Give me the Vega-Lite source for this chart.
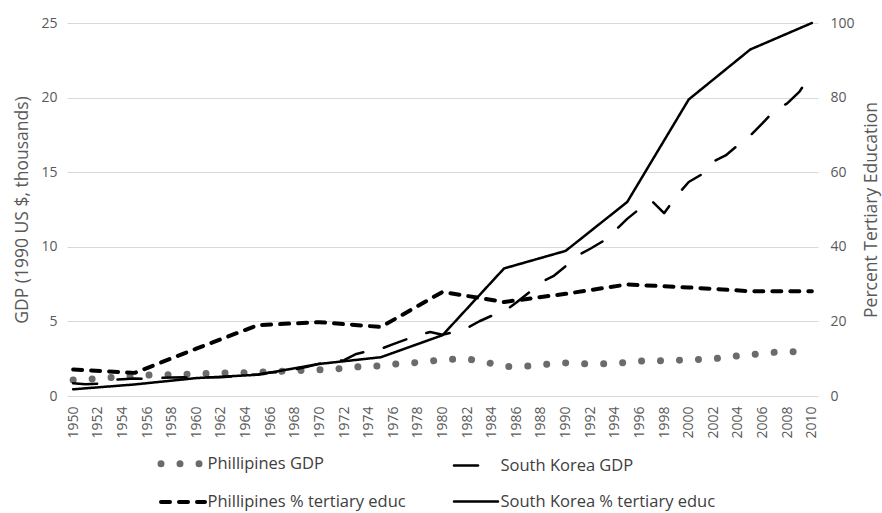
{
  "$schema": "https://vega.github.io/schema/vega-lite/v6.json",
  "width": 751,
  "height": 373,
  "autosize": {"type": "none"},
  "padding": {"left": 67, "top": 23, "right": 64, "bottom": 117},
  "background": "white",
  "datasets": {
    "gdp": [
      {"year":1950,"series":"Phillipines GDP","value":1.07},{"year":1951,"series":"Phillipines GDP","value":1.13},{"year":1952,"series":"Phillipines GDP","value":1.16},{"year":1953,"series":"Phillipines GDP","value":1.23},{"year":1954,"series":"Phillipines GDP","value":1.29},{"year":1955,"series":"Phillipines GDP","value":1.34},{"year":1956,"series":"Phillipines GDP","value":1.40},{"year":1957,"series":"Phillipines GDP","value":1.43},{"year":1958,"series":"Phillipines GDP","value":1.43},{"year":1959,"series":"Phillipines GDP","value":1.46},
      {"year":1960,"series":"Phillipines GDP","value":1.48},{"year":1961,"series":"Phillipines GDP","value":1.51},{"year":1962,"series":"Phillipines GDP","value":1.52},{"year":1963,"series":"Phillipines GDP","value":1.57},{"year":1964,"series":"Phillipines GDP","value":1.56},{"year":1965,"series":"Phillipines GDP","value":1.60},{"year":1966,"series":"Phillipines GDP","value":1.63},{"year":1967,"series":"Phillipines GDP","value":1.66},{"year":1968,"series":"Phillipines GDP","value":1.70},{"year":1969,"series":"Phillipines GDP","value":1.73},
      {"year":1970,"series":"Phillipines GDP","value":1.76},{"year":1971,"series":"Phillipines GDP","value":1.81},{"year":1972,"series":"Phillipines GDP","value":1.84},{"year":1973,"series":"Phillipines GDP","value":1.95},{"year":1974,"series":"Phillipines GDP","value":1.98},{"year":1975,"series":"Phillipines GDP","value":2.03},{"year":1976,"series":"Phillipines GDP","value":2.13},{"year":1977,"series":"Phillipines GDP","value":2.19},{"year":1978,"series":"Phillipines GDP","value":2.25},{"year":1979,"series":"Phillipines GDP","value":2.33},
      {"year":1980,"series":"Phillipines GDP","value":2.43},{"year":1981,"series":"Phillipines GDP","value":2.47},{"year":1982,"series":"Phillipines GDP","value":2.47},{"year":1983,"series":"Phillipines GDP","value":2.38},{"year":1984,"series":"Phillipines GDP","value":2.17},{"year":1985,"series":"Phillipines GDP","value":1.97},{"year":1986,"series":"Phillipines GDP","value":1.97},{"year":1987,"series":"Phillipines GDP","value":2.01},{"year":1988,"series":"Phillipines GDP","value":2.09},{"year":1989,"series":"Phillipines GDP","value":2.17},
      {"year":1990,"series":"Phillipines GDP","value":2.22},{"year":1991,"series":"Phillipines GDP","value":2.18},{"year":1992,"series":"Phillipines GDP","value":2.14},{"year":1993,"series":"Phillipines GDP","value":2.15},{"year":1994,"series":"Phillipines GDP","value":2.19},{"year":1995,"series":"Phillipines GDP","value":2.25},{"year":1996,"series":"Phillipines GDP","value":2.33},{"year":1997,"series":"Phillipines GDP","value":2.41},{"year":1998,"series":"Phillipines GDP","value":2.34},{"year":1999,"series":"Phillipines GDP","value":2.39},
      {"year":2000,"series":"Phillipines GDP","value":2.43},{"year":2001,"series":"Phillipines GDP","value":2.45},{"year":2002,"series":"Phillipines GDP","value":2.50},{"year":2003,"series":"Phillipines GDP","value":2.58},{"year":2004,"series":"Phillipines GDP","value":2.69},{"year":2005,"series":"Phillipines GDP","value":2.77},{"year":2006,"series":"Phillipines GDP","value":2.85},{"year":2007,"series":"Phillipines GDP","value":2.93},{"year":2008,"series":"Phillipines GDP","value":2.97},{"year":2009,"series":"Phillipines GDP","value":2.96},{"year":2010,"series":"Phillipines GDP","value":3.0},
      {"year":1950,"series":"South Korea GDP","value":0.85},{"year":1951,"series":"South Korea GDP","value":0.79},{"year":1952,"series":"South Korea GDP","value":0.82},{"year":1953,"series":"South Korea GDP","value":1.07},{"year":1954,"series":"South Korea GDP","value":1.12},{"year":1955,"series":"South Korea GDP","value":1.17},{"year":1956,"series":"South Korea GDP","value":1.16},{"year":1957,"series":"South Korea GDP","value":1.21},{"year":1958,"series":"South Korea GDP","value":1.24},{"year":1959,"series":"South Korea GDP","value":1.25},
      {"year":1960,"series":"South Korea GDP","value":1.23},{"year":1961,"series":"South Korea GDP","value":1.25},{"year":1962,"series":"South Korea GDP","value":1.25},{"year":1963,"series":"South Korea GDP","value":1.32},{"year":1964,"series":"South Korea GDP","value":1.39},{"year":1965,"series":"South Korea GDP","value":1.44},{"year":1966,"series":"South Korea GDP","value":1.57},{"year":1967,"series":"South Korea GDP","value":1.63},{"year":1968,"series":"South Korea GDP","value":1.77},{"year":1969,"series":"South Korea GDP","value":1.96},
      {"year":1970,"series":"South Korea GDP","value":2.17},{"year":1971,"series":"South Korea GDP","value":2.32},{"year":1972,"series":"South Korea GDP","value":2.40},{"year":1973,"series":"South Korea GDP","value":2.82},{"year":1974,"series":"South Korea GDP","value":3.02},{"year":1975,"series":"South Korea GDP","value":3.16},{"year":1976,"series":"South Korea GDP","value":3.48},{"year":1977,"series":"South Korea GDP","value":3.78},{"year":1978,"series":"South Korea GDP","value":4.06},{"year":1979,"series":"South Korea GDP","value":4.29},
      {"year":1980,"series":"South Korea GDP","value":4.11},{"year":1981,"series":"South Korea GDP","value":4.30},{"year":1982,"series":"South Korea GDP","value":4.56},{"year":1983,"series":"South Korea GDP","value":5.01},{"year":1984,"series":"South Korea GDP","value":5.38},{"year":1985,"series":"South Korea GDP","value":5.67},{"year":1986,"series":"South Korea GDP","value":6.26},{"year":1987,"series":"South Korea GDP","value":6.92},{"year":1988,"series":"South Korea GDP","value":7.62},{"year":1989,"series":"South Korea GDP","value":8.03},
      {"year":1990,"series":"South Korea GDP","value":8.70},{"year":1991,"series":"South Korea GDP","value":9.43},{"year":1992,"series":"South Korea GDP","value":9.87},{"year":1993,"series":"South Korea GDP","value":10.36},{"year":1994,"series":"South Korea GDP","value":11.08},{"year":1995,"series":"South Korea GDP","value":11.87},{"year":1996,"series":"South Korea GDP","value":12.54},{"year":1997,"series":"South Korea GDP","value":13.07},{"year":1998,"series":"South Korea GDP","value":12.25},{"year":1999,"series":"South Korea GDP","value":13.40},
      {"year":2000,"series":"South Korea GDP","value":14.34},{"year":2001,"series":"South Korea GDP","value":14.83},{"year":2002,"series":"South Korea GDP","value":15.72},{"year":2003,"series":"South Korea GDP","value":16.12},{"year":2004,"series":"South Korea GDP","value":16.82},{"year":2005,"series":"South Korea GDP","value":17.46},{"year":2006,"series":"South Korea GDP","value":18.29},{"year":2007,"series":"South Korea GDP","value":19.17},{"year":2008,"series":"South Korea GDP","value":19.61},{"year":2009,"series":"South Korea GDP","value":20.40},{"year":2010,"series":"South Korea GDP","value":21.70}
    ],
    "edu": [
      {"year":1950,"series":"Phillipines % tertiary educ","value":7.1},{"year":1955,"series":"Phillipines % tertiary educ","value":6.2},{"year":1960,"series":"Phillipines % tertiary educ","value":12.7},{"year":1965,"series":"Phillipines % tertiary educ","value":19.0},{"year":1970,"series":"Phillipines % tertiary educ","value":19.8},{"year":1975,"series":"Phillipines % tertiary educ","value":18.5},{"year":1980,"series":"Phillipines % tertiary educ","value":27.9},{"year":1985,"series":"Phillipines % tertiary educ","value":25.2},{"year":1990,"series":"Phillipines % tertiary educ","value":27.4},{"year":1995,"series":"Phillipines % tertiary educ","value":29.9},{"year":2000,"series":"Phillipines % tertiary educ","value":29.1},{"year":2005,"series":"Phillipines % tertiary educ","value":28.1},{"year":2010,"series":"Phillipines % tertiary educ","value":28.1},
      {"year":1950,"series":"South Korea % tertiary educ","value":1.8},{"year":1955,"series":"South Korea % tertiary educ","value":3.1},{"year":1960,"series":"South Korea % tertiary educ","value":4.8},{"year":1965,"series":"South Korea % tertiary educ","value":5.7},{"year":1970,"series":"South Korea % tertiary educ","value":8.6},{"year":1975,"series":"South Korea % tertiary educ","value":10.4},{"year":1980,"series":"South Korea % tertiary educ","value":16.3},{"year":1985,"series":"South Korea % tertiary educ","value":34.2},{"year":1990,"series":"South Korea % tertiary educ","value":38.9},{"year":1995,"series":"South Korea % tertiary educ","value":52.0},{"year":2000,"series":"South Korea % tertiary educ","value":79.5},{"year":2005,"series":"South Korea % tertiary educ","value":92.9},{"year":2010,"series":"South Korea % tertiary educ","value":100}
    ]
  },
  "encoding": {
    "x": {"field": "year", "type": "quantitative", "scale": {"domain": [1949.5, 2010.5], "nice": false, "zero": false},
          "axis": {"values": [1950,1952,1954,1956,1958,1960,1962,1964,1966,1968,1970,1972,1974,1976,1978,1980,1982,1984,1986,1988,1990,1992,1994,1996,1998,2000,2002,2004,2006,2008,2010], "format": "d", "labelAngle": -90, "labelPadding": 10, "labelOverlap": false, "labelFlush": false, "grid": false, "title": null}},
    "color": {"field": "series", "type": "nominal", "scale": {"domain": ["Phillipines GDP","South Korea GDP","Phillipines % tertiary educ","South Korea % tertiary educ"], "range": ["#6b6b6b","#000000","#000000","#000000"]},
              "legend": {"encode": {"symbols": {"update": {"strokeCap": {"value": "round"}}}}}},
    "strokeDash": {"field": "series", "type": "nominal", "scale": {"domain": ["Phillipines GDP","South Korea GDP","Phillipines % tertiary educ","South Korea % tertiary educ"], "range": [[0.01,19],[24,21],[9,9],[1,0]]},
              "legend": {"encode": {"symbols": {"update": {"strokeCap": {"value": "round"}}}}}},
    "strokeWidth": {"field": "series", "type": "nominal", "scale": {"type": "ordinal", "domain": ["Phillipines GDP","South Korea GDP","Phillipines % tertiary educ","South Korea % tertiary educ"], "range": [7,2.5,4,2.5]},
              "legend": {"encode": {"symbols": {"update": {"strokeCap": {"value": "round"}}}}}}
  },
  "layer": [
    {
      "data": {"name": "gdp"},
      "mark": {"type": "line", "strokeCap": "round", "strokeJoin": "round"},
      "encoding": {
        "y": {"field": "value", "type": "quantitative", "scale": {"domain": [0, 25], "nice": false},
              "axis": {"values": [0,5,10,15,20,25], "grid": true, "labelPadding": 10, "titlePadding": 9, "title": "GDP (1990 US $, thousands)"}}
      }
    },
    {
      "data": {"name": "edu"},
      "mark": {"type": "line", "strokeCap": "round", "strokeJoin": "round"},
      "encoding": {
        "y": {"field": "value", "type": "quantitative", "scale": {"domain": [0, 100], "nice": false},
              "axis": {"orient": "right", "values": [0,20,40,60,80,100], "grid": false, "labelPadding": 12, "titlePadding": 26, "titleAngle": -90, "title": "Percent Tertiary Education"}}
      }
    }
  ],
  "resolve": {"scale": {"y": "independent"}},
  "config": {
    "font": "Open Sans",
    "view": {"stroke": null},
    "axis": {"labelColor": "#595959", "titleColor": "#595959", "labelFontSize": 14, "titleFontSize": 17.5, "titleFontWeight": "normal", "domain": false, "ticks": false, "gridColor": "#d9d9d9", "gridWidth": 1},
    "axisX": {"labelOverlap": false},
    "legend": {
      "orient": "none", "legendX": 90.5, "legendY": 415, "title": null, "direction": "horizontal", "columns": 2,
      "symbolType": "stroke", "symbolSize": 1936, "symbolStrokeWidth": 1.5,
      "labelFontSize": 16.5, "labelColor": "#404040", "labelOffset": -1, "columnPadding": 42, "rowPadding": -23, "padding": 0,
      "labelLimit": 400
    }
  }
}
